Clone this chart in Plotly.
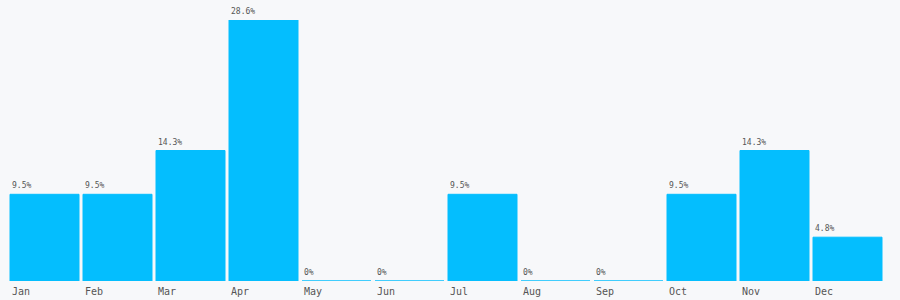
import plotly.graph_objects as go

months = ["Jan", "Feb", "Mar", "Apr", "May", "Jun", "Jul", "Aug", "Sep", "Oct", "Nov", "Dec"]
values = [9.5, 9.5, 14.3, 28.6, 0, 0, 9.5, 0, 0, 9.5, 14.3, 4.8]
labels = ["9.5%", "9.5%", "14.3%", "28.6%", "0%", "0%", "9.5%", "0%", "0%", "9.5%", "14.3%", "4.8%"]

BAR = "#04befe"
BG = "#f7f8fa"
TXT = "#555555"
FONT = "DejaVu Sans Mono"

fig = go.Figure()
fig.add_trace(go.Bar(
    x=months, y=values,
    marker=dict(color=BAR, line=dict(color=BAR, width=1)),
    hoverinfo="skip",
))

half = 34
for m, v, t in zip(months, values, labels):
    fig.add_annotation(x=m, y=v, xref="x", yref="y", text=t, showarrow=False,
                       xanchor="left", yanchor="bottom", xshift=-half - 1, yshift=2,
                       font=dict(family=FONT, size=8, color=TXT))
    fig.add_annotation(x=m, y=0, xref="x", yref="paper", text=m, showarrow=False,
                       xanchor="left", yanchor="top", xshift=-half - 1, yshift=-3,
                       font=dict(family=FONT, size=10, color=TXT))

fig.update_layout(
    width=900, height=300,
    margin=dict(l=8, r=16, t=20, b=19),
    paper_bgcolor=BG, plot_bgcolor=BG,
    bargap=4 / 73,
    showlegend=False,
    xaxis=dict(showticklabels=False, showgrid=False, zeroline=False, showline=False, ticks=""),
    yaxis=dict(range=[0, 28.6], showticklabels=False, showgrid=False, zeroline=False, showline=False, ticks=""),
)
fig.write_html("out.html")
